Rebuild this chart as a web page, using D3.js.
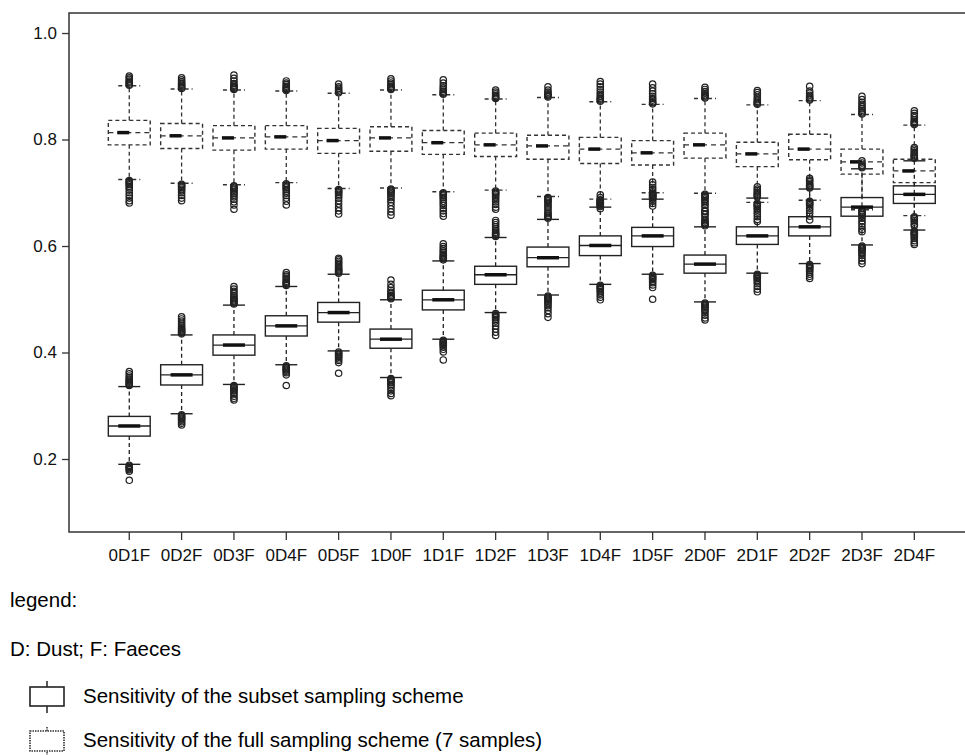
<!DOCTYPE html>
<html>
<head>
<meta charset="utf-8">
<script src="https://cdn.jsdelivr.net/npm/d3@7"></script>
<style>
body{margin:0;background:#fff;}
text{font-family:"Liberation Sans",Arial,sans-serif;fill:#000;}
</style>
</head>
<body>
<div id="canvas"></div>
<script>
// ---- DATA ----------------------------------------------------------------------------
var categories = ['0D1F','0D2F','0D3F','0D4F','0D5F','1D0F','1D1F','1D2F',
                  '1D3F','1D4F','1D5F','2D0F','2D1F','2D2F','2D3F','2D4F'];

// [lower whisker, Q1, median, Q3, upper whisker]
var fullStats = [
    [0.725,0.790,0.813,0.836,0.901],[0.718,0.783,0.807,0.830,0.895],
    [0.715,0.780,0.803,0.826,0.893],[0.719,0.782,0.805,0.826,0.891],
    [0.708,0.774,0.798,0.821,0.887],[0.709,0.778,0.803,0.824,0.893],
    [0.702,0.772,0.794,0.817,0.884],[0.705,0.768,0.790,0.812,0.876],
    [0.693,0.763,0.788,0.808,0.879],[0.688,0.755,0.782,0.804,0.871],
    [0.700,0.752,0.775,0.798,0.866],[0.699,0.765,0.790,0.812,0.877],
    [0.682,0.749,0.773,0.795,0.865],[0.686,0.762,0.782,0.810,0.873],
    [0.668,0.735,0.758,0.782,0.847],[0.657,0.719,0.741,0.763,0.827]
];
var subsetStats = [
    [0.190,0.243,0.262,0.280,0.336],[0.285,0.339,0.358,0.377,0.433],
    [0.340,0.395,0.414,0.433,0.489],[0.377,0.431,0.450,0.469,0.524],
    [0.403,0.457,0.475,0.494,0.547],[0.353,0.408,0.425,0.444,0.499],
    [0.425,0.480,0.499,0.517,0.572],[0.475,0.528,0.546,0.562,0.616],
    [0.508,0.561,0.578,0.598,0.650],[0.528,0.582,0.601,0.619,0.673],
    [0.547,0.599,0.619,0.635,0.688],[0.495,0.549,0.566,0.583,0.636],
    [0.549,0.603,0.619,0.636,0.690],[0.567,0.619,0.636,0.655,0.707],
    [0.602,0.656,0.673,0.691,0.745],[0.630,0.680,0.697,0.713,0.760]
];

// outliers
var fullHigh = [
    [0.902,0.904,0.906,0.908,0.910,0.913,0.916,0.919],
    [0.896,0.898,0.900,0.902,0.904,0.906,0.909,0.912,0.916],
    [0.894,0.896,0.898,0.900,0.902,0.905,0.910,0.915,0.921],
    [0.892,0.894,0.896,0.898,0.900,0.903,0.906,0.910],
    [0.888,0.890,0.893,0.896,0.899,0.904],
    [0.894,0.896,0.898,0.900,0.903,0.906,0.910,0.914],
    [0.885,0.887,0.889,0.891,0.894,0.897,0.901,0.906,0.912],
    [0.877,0.879,0.881,0.883,0.886,0.889,0.893],
    [0.880,0.882,0.884,0.886,0.889,0.893,0.899],
    [0.872,0.874,0.876,0.878,0.881,0.885,0.889,0.894,0.899,0.904,0.909],
    [0.867,0.869,0.871,0.874,0.877,0.881,0.886,0.891,0.897,0.904],
    [0.878,0.880,0.882,0.884,0.887,0.890,0.894,0.898],
    [0.866,0.868,0.870,0.872,0.875,0.879,0.884,0.888,0.892],
    [0.874,0.876,0.878,0.880,0.883,0.887,0.891,0.900],
    [0.848,0.850,0.852,0.855,0.858,0.862,0.866,0.870,0.875,0.881],
    [0.828,0.830,0.832,0.834,0.837,0.841,0.845,0.849,0.854]
];
var fullLow = [
    [0.723,0.721,0.719,0.717,0.715,0.712,0.709,0.705,0.700,0.695,0.690,0.685,0.681],
    [0.716,0.714,0.712,0.710,0.707,0.704,0.700,0.695,0.690,0.685],
    [0.713,0.711,0.709,0.707,0.705,0.702,0.699,0.696,0.692,0.688,0.683,0.677,0.669],
    [0.717,0.715,0.713,0.711,0.709,0.706,0.703,0.699,0.695,0.690,0.684,0.677],
    [0.706,0.704,0.702,0.700,0.697,0.694,0.690,0.685,0.679,0.672,0.666,0.660],
    [0.707,0.705,0.703,0.701,0.698,0.695,0.691,0.687,0.682,0.676,0.670,0.664,0.658],
    [0.700,0.698,0.696,0.694,0.691,0.688,0.684,0.680,0.676,0.671,0.666,0.661,0.656],
    [0.703,0.701,0.699,0.697,0.694,0.691,0.687,0.683,0.678,0.673,0.669],
    [0.691,0.689,0.687,0.685,0.682,0.679,0.675],
    [0.686,0.684,0.682,0.680,0.677,0.674,0.670],
    [0.698,0.696,0.694,0.691,0.688,0.684,0.680,0.675],
    [0.697,0.695,0.693,0.691,0.688,0.685,0.681,0.677,0.672,0.666,0.660],
    [0.680,0.678,0.676,0.674,0.671,0.668,0.664,0.660,0.655,0.650,0.646],
    [0.684,0.682,0.680,0.678,0.675,0.671,0.667,0.662,0.656,0.649],
    [0.666,0.664,0.662,0.659,0.656,0.652,0.647,0.642,0.636,0.631,0.627],
    [0.655,0.653,0.651,0.648,0.645,0.641,0.638]
];
var subsetHigh = [
    [0.338,0.340,0.342,0.344,0.346,0.348,0.350,0.353,0.356,0.360,0.364],
    [0.435,0.437,0.439,0.441,0.443,0.445,0.448,0.451,0.455,0.459,0.463,0.467],
    [0.491,0.493,0.495,0.497,0.499,0.501,0.504,0.507,0.511,0.515,0.519,0.524],
    [0.526,0.528,0.530,0.532,0.534,0.537,0.540,0.543,0.546,0.550],
    [0.549,0.551,0.553,0.555,0.557,0.559,0.562,0.565,0.568,0.571,0.574,0.577],
    [0.501,0.503,0.505,0.507,0.510,0.513,0.517,0.522,0.528,0.536],
    [0.574,0.576,0.578,0.580,0.582,0.585,0.588,0.591,0.595,0.599,0.604],
    [0.618,0.620,0.622,0.624,0.626,0.629,0.632,0.636,0.640,0.644,0.648],
    [0.652,0.654,0.656,0.658,0.661,0.664,0.668,0.672],
    [0.675,0.677,0.679,0.681,0.684,0.687,0.691,0.696],
    [0.690,0.692,0.694,0.696,0.699,0.702,0.706,0.710,0.715,0.720],
    [0.638,0.640,0.642,0.644,0.647,0.650,0.654,0.659,0.665],
    [0.692,0.694,0.696,0.698,0.701,0.704,0.707,0.711],
    [0.709,0.711,0.713,0.715,0.718,0.721,0.724,0.727],
    [0.747,0.749,0.752,0.756,0.760],
    [0.765,0.767,0.769,0.771,0.773,0.776,0.779,0.782,0.785]
];
var subsetLow = [
    [0.188,0.186,0.184,0.182,0.180,0.177,0.160],
    [0.283,0.281,0.279,0.277,0.275,0.273,0.270,0.267,0.264],
    [0.338,0.336,0.334,0.332,0.330,0.328,0.325,0.322,0.318,0.314,0.311],
    [0.375,0.373,0.371,0.369,0.367,0.365,0.362,0.358,0.338],
    [0.401,0.399,0.397,0.395,0.393,0.391,0.388,0.385,0.381,0.361],
    [0.351,0.349,0.347,0.345,0.343,0.340,0.337,0.333,0.328,0.323,0.319],
    [0.423,0.421,0.419,0.417,0.415,0.413,0.410,0.406,0.401,0.386],
    [0.473,0.471,0.469,0.467,0.465,0.462,0.459,0.455,0.450,0.444,0.438,0.432],
    [0.506,0.504,0.502,0.500,0.498,0.495,0.492,0.488,0.484,0.479,0.473,0.466],
    [0.526,0.524,0.522,0.520,0.518,0.515,0.512,0.508,0.504,0.499],
    [0.545,0.543,0.541,0.539,0.537,0.534,0.531,0.527,0.522,0.500],
    [0.493,0.491,0.489,0.487,0.485,0.482,0.479,0.475,0.470,0.465,0.461],
    [0.547,0.545,0.543,0.541,0.539,0.536,0.533,0.529,0.524,0.519,0.514],
    [0.565,0.563,0.561,0.559,0.557,0.554,0.551,0.547,0.543,0.539],
    [0.600,0.598,0.596,0.594,0.592,0.589,0.586,0.582,0.577,0.572,0.567],
    [0.628,0.626,0.624,0.622,0.620,0.617,0.614,0.610,0.606,0.603]
];

var yTicks = [0.2, 0.4, 0.6, 0.8, 1.0];
var legendTitle = 'legend:';
var legendNote = 'D: Dust; F: Faeces';
var legendItems = ['Sensitivity of the subset sampling scheme',
                   'Sensitivity of the full sampling scheme (7 samples)'];


// ---- CONVENTIONS ---------------------------------------------------------------------
var outerWidth = 965,
    outerHeight = 755;
var frame = {left:69, top:13, right:968, bottom:532};

var svg = d3.select('#canvas')
    .append('svg')
    .attr('width', outerWidth)
    .attr('height', outerHeight);


// ---- SCALES --------------------------------------------------------------------------
var scaleX = d3.scaleBand()
    .domain(categories)
    .range([103.1, 940.5])
    .padding(0);

var scaleY = d3.scaleLinear()
    .domain([0.0629, 1.0376])
    .range([frame.bottom, frame.top]);

var boxW = scaleX.bandwidth() * 0.8;


// ---- AXES ----------------------------------------------------------------------------
var axisX = d3.axisBottom(scaleX).tickSize(8).tickPadding(9);
var axisY = d3.axisLeft(scaleY)
    .tickValues(yTicks)
    .tickFormat(d3.format('.1f'))
    .tickSize(7)
    .tickPadding(5);

svg.append('g').attr('class','axis axis-x')
    .attr('transform','translate(0,' + frame.bottom + ')')
    .call(axisX);
svg.append('g').attr('class','axis axis-y')
    .attr('transform','translate(' + frame.left + ',0)')
    .call(axisY);

svg.selectAll('.axis .domain').remove();
svg.selectAll('.axis line').style('stroke','#333').style('stroke-width',1.3);
svg.selectAll('.axis text').style('font-size','17px').style('fill','#111');

// plot frame
svg.append('rect')
    .attr('x', frame.left)
    .attr('y', frame.top)
    .attr('width', frame.right - frame.left)
    .attr('height', frame.bottom - frame.top)
    .style('fill','none')
    .style('stroke','#333')
    .style('stroke-width',1.5);


// ---- DRAW FUNCTION -------------------------------------------------------------------
function drawBoxes(stats, high, low, dashed, cls) {
    var col = dashed ? '#333' : '#222';
    var dash = dashed ? '4,3' : null;
    var thickW = dashed ? 12 : 22;

    var g = svg.selectAll('.' + cls)
        .data(categories)
        .enter()
        .append('g')
        .attr('class', cls)
        .attr('transform', function(d){ return 'translate(' + (scaleX(d) + scaleX.bandwidth()/2) + ',0)'; });

    g.each(function(d, i){
        var s = stats[i];
        var el = d3.select(this);

        // whiskers
        el.append('line')
            .attr('x1',0).attr('x2',0)
            .attr('y1',scaleY(s[3])).attr('y2',scaleY(s[4]))
            .style('stroke',col).style('stroke-width',1.3).style('stroke-dasharray','4,3');
        el.append('line')
            .attr('x1',0).attr('x2',0)
            .attr('y1',scaleY(s[1])).attr('y2',scaleY(s[0]))
            .style('stroke',col).style('stroke-width',1.3).style('stroke-dasharray','4,3');

        // caps
        [s[0], s[4]].forEach(function(v){
            el.append('line')
                .attr('x1',-11).attr('x2',11)
                .attr('y1',scaleY(v)).attr('y2',scaleY(v))
                .style('stroke',col).style('stroke-width',1.4)
                .style('stroke-dasharray',dash);
        });

        // box
        el.append('rect')
            .attr('x',-boxW/2)
            .attr('y',scaleY(s[3]))
            .attr('width',boxW)
            .attr('height',scaleY(s[1]) - scaleY(s[3]))
            .style('fill','none')
            .style('stroke',col).style('stroke-width',1.4)
            .style('stroke-dasharray',dash);

        // median
        el.append('line')
            .attr('x1',-boxW/2).attr('x2',boxW/2)
            .attr('y1',scaleY(s[2])).attr('y2',scaleY(s[2]))
            .style('stroke',col).style('stroke-width',1.3)
            .style('stroke-dasharray',dashed ? '5,4' : null);
        el.append('line')
            .attr('x1',dashed ? -thickW : -thickW/2)
            .attr('x2',dashed ? 0 : thickW/2)
            .attr('y1',scaleY(s[2])).attr('y2',scaleY(s[2]))
            .style('stroke','#111').style('stroke-width',3.5);

        // outliers
        el.selectAll('circle')
            .data(high[i].concat(low[i]))
            .enter()
            .append('circle')
            .attr('cx',0)
            .attr('cy',function(v){ return scaleY(v); })
            .attr('r',3.2)
            .style('fill','none')
            .style('stroke','#222')
            .style('stroke-width',1.2);
    });
}

drawBoxes(fullStats, fullHigh, fullLow, true, 'box-full');
drawBoxes(subsetStats, subsetHigh, subsetLow, false, 'box-subset');


// ---- LEGEND --------------------------------------------------------------------------
var legend = svg.append('g').attr('class','legend');

legend.append('text').attr('x',10).attr('y',607)
    .style('font-size','20.5px').text(legendTitle);
legend.append('text').attr('x',10).attr('y',656)
    .style('font-size','20.5px').text(legendNote);

var itemY = [687, 731];
legendItems.forEach(function(t, i){
    var dotted = i === 1;
    var y0 = itemY[i];
    var h = dotted ? 20 : 19;
    var col = dotted ? '#333' : '#222';
    legend.append('line')
        .attr('x1',47).attr('x2',47)
        .attr('y1',y0 - (dotted ? 4 : 6)).attr('y2',y0 + h + (dotted ? 4 : 7))
        .style('stroke',col).style('stroke-width',1.5)
        .style('stroke-dasharray',dotted ? '1.5,1' : null);
    legend.append('rect')
        .attr('x',30).attr('y',y0)
        .attr('width',34).attr('height',h)
        .style('fill','#fff')
        .style('stroke',col)
        .style('stroke-width',dotted ? 1.6 : 1.6)
        .style('stroke-dasharray',dotted ? '1.5,1' : null);
    legend.append('text')
        .attr('x',83).attr('y',y0 + 16)
        .style('font-size','20.5px')
        .text(t);
});
</script>
</body>
</html>
